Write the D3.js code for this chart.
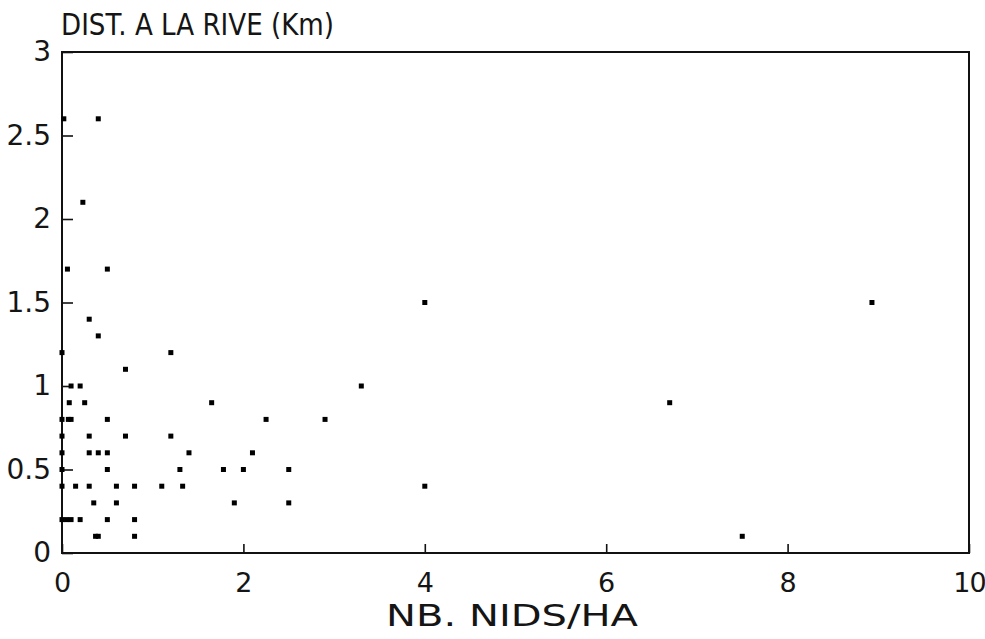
<!DOCTYPE html>
<html>
<head>
<meta charset="utf-8">
<script src="https://cdn.jsdelivr.net/npm/d3@7"></script>
<style>
  html, body { margin: 0; padding: 0; background: #fff; }
  svg text { font-family: "DejaVu Sans", "Liberation Sans", Arial, sans-serif; fill: #151515; }
</style>
</head>
<body>
<svg id="chart" width="985" height="639"></svg>
<script>
// Nest density (nests per hectare) vs distance to the shore (km)
const nidsHa = [
  0.02, 0.4, 0.23, 0.06, 0.5, 0.3, 0.4, 0, 1.2, 0.7,
  0.1, 0.2, 3.3,
  0.08, 0.25, 1.65, 6.7,
  0, 0.07, 0.1, 0.5, 2.25, 2.9,
  0, 0.3, 0.7, 1.2,
  0, 0.3, 0.4, 0.5, 1.4, 2.1,
  0, 0.5, 1.3, 1.78, 2.0, 2.5,
  0, 0.15, 0.3, 0.6, 0.8, 1.1, 1.33, 4,
  0.35, 0.6, 1.9, 2.5,
  0, 0.05, 0.1, 0.2, 0.5, 0.8,
  0.37, 0.4, 0.8, 7.5,
  4, 8.93
];
const distRive = [
  2.6, 2.6, 2.1, 1.7, 1.7, 1.4, 1.3, 1.2, 1.2, 1.1,
  1.0, 1.0, 1.0,
  0.9, 0.9, 0.9, 0.9,
  0.8, 0.8, 0.8, 0.8, 0.8, 0.8,
  0.7, 0.7, 0.7, 0.7,
  0.6, 0.6, 0.6, 0.6, 0.6, 0.6,
  0.5, 0.5, 0.5, 0.5, 0.5, 0.5,
  0.4, 0.4, 0.4, 0.4, 0.4, 0.4, 0.4, 0.4,
  0.3, 0.3, 0.3, 0.3,
  0.2, 0.2, 0.2, 0.2, 0.2, 0.2,
  0.1, 0.1, 0.1, 0.1,
  1.5, 1.5
];
const xTicks = [0, 2, 4, 6, 8, 10];
const yTicks = [0, 0.5, 1, 1.5, 2, 2.5, 3];
const xTickLabels = ["0", "2", "4", "6", "8", "10"];
const yTickLabels = ["0", "0.5", "1", "1.5", "2", "2.5", "3"];
const xTitle = "NB. NIDS/HA";
const yTitle = "DIST. A LA RIVE (Km)";

const points = nidsHa.map((x, i) => ({ x, y: distRive[i] }));

const svg = d3.select("#chart");
const plotLeft = 62, plotRight = 969, plotTop = 52, plotBottom = 553;

const x = d3.scaleLinear().domain([0, 10]).range([plotLeft, plotRight]);
const y = d3.scaleLinear().domain([0, 3]).range([plotBottom, plotTop]);

// Bottom axis: ticks point up into the plot
const xAxis = d3.axisBottom(x)
  .tickValues(xTicks)
  .tickFormat((d, i) => xTickLabels[i])
  .tickSizeInner(-9).tickSizeOuter(0).tickPadding(24);
const gx = svg.append("g").attr("transform", `translate(0,${plotBottom})`).call(xAxis);
gx.select(".domain").remove();
gx.selectAll(".tick line").attr("stroke", "#111").attr("stroke-width", 1.6);
gx.selectAll(".tick text").attr("font-size", 27).attr("dy", "0.55em");
// the last label sits right against the page edge
gx.selectAll(".tick text").filter(d => d === 10).attr("letter-spacing", -1);

// Left axis: ticks point right into the plot
const yAxis = d3.axisLeft(y)
  .tickValues(yTicks)
  .tickFormat((d, i) => yTickLabels[i])
  .tickSizeInner(-11).tickSizeOuter(0).tickPadding(11);
const gy = svg.append("g").attr("transform", `translate(${plotLeft},0)`).call(yAxis);
gy.select(".domain").remove();
gy.selectAll(".tick line").attr("stroke", "#111").attr("stroke-width", 1.6);
gy.selectAll(".tick text").attr("font-size", 28);

// Frame around the plot area
svg.append("rect")
  .attr("x", plotLeft).attr("y", plotTop)
  .attr("width", plotRight - plotLeft).attr("height", plotBottom - plotTop)
  .attr("fill", "none").attr("stroke", "#111").attr("stroke-width", 2);

// Observations as small filled squares
const s = 5;
svg.append("g").selectAll("rect")
  .data(points)
  .join("rect")
  .attr("x", d => x(d.x) - s / 2)
  .attr("y", d => y(d.y) - s / 2)
  .attr("width", s).attr("height", s)
  .attr("fill", "#000");

// Axis titles
svg.append("text")
  .attr("x", plotLeft - 1).attr("y", 35)
  .attr("font-size", 30)
  .attr("textLength", 273).attr("lengthAdjust", "spacingAndGlyphs")
  .text(yTitle);

svg.append("text")
  .attr("x", 386).attr("y", 626)
  .attr("font-size", 30)
  .attr("textLength", 252).attr("lengthAdjust", "spacingAndGlyphs")
  .text(xTitle);
</script>
</body>
</html>
